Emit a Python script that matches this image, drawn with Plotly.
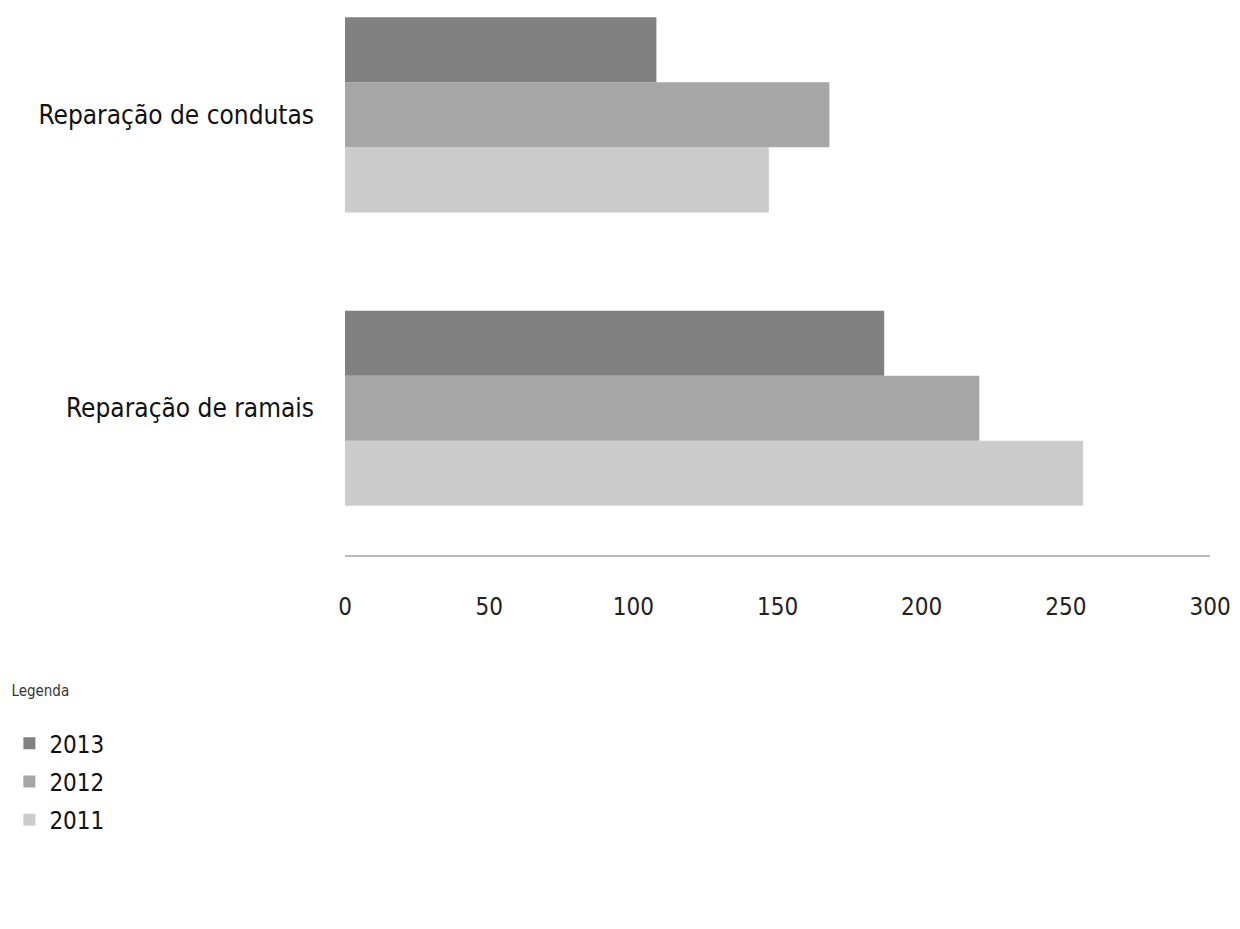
import plotly.graph_objects as go

categories = ["Reparação de ramais", "Reparação de condutas"]
years = ["2011", "2012", "2013"]
values_2011 = [256, 147]
values_2012 = [220, 168]
values_2013 = [187, 108]
colors = {"2011": "#cccccc", "2012": "#a6a6a6", "2013": "#808080"}
ranks = {"2011": 3, "2012": 2, "2013": 1}
x_ticks = [0, 50, 100, 150, 200, 250, 300]

series = {"2011": values_2011, "2012": values_2012, "2013": values_2013}

FONT = "DejaVu Sans Condensed, Liberation Sans Narrow, Arial Narrow, sans-serif"

fig = go.Figure()
for yr in years:
    fig.add_trace(go.Bar(
        y=categories, x=series[yr], name=yr, orientation="h",
        marker=dict(color=colors[yr], line=dict(width=0)),
        legendgroup=yr, legendrank=ranks[yr],
    ))

fig.update_layout(
    width=1232, height=921,
    margin=dict(l=337, r=30, t=0, b=374),
    paper_bgcolor="white", plot_bgcolor="white",
    barmode="group", bargap=0.335, bargroupgap=0,
    font=dict(family=FONT, color="#222222"),
    showlegend=True,
    legend=dict(
        title=dict(text="<span style='font-size:15px'>Legenda</span><br> ",
                   font=dict(size=19, family=FONT, color="#333333")),
        traceorder="grouped", tracegroupgap=4,
        x=-0.388, xanchor="left", y=-0.2135, yanchor="top",
        font=dict(size=24, family=FONT, color="#111111"),
        itemwidth=30,
    ),
)
fig.update_xaxes(
    range=[0, 300], tickvals=x_ticks, ticktext=[str(v) for v in x_ticks],
    showgrid=False, zeroline=False, showline=True, linecolor="#bbbbbb", linewidth=2,
    ticks="", tickfont=dict(size=24, family=FONT, color="#222222"),
    ticklabelstandoff=29,
)
fig.update_yaxes(
    type="category", categoryorder="array", categoryarray=categories,
    range=[-0.5, 1.364], showgrid=False, zeroline=False, showline=False, ticks="",
    tickfont=dict(size=26, family=FONT, color="#111111"),
    ticklabelstandoff=30,
)

fig.write_html("out.html")
